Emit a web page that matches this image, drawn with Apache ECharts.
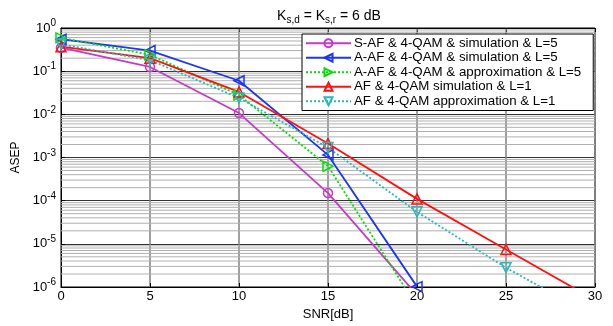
<!DOCTYPE html>
<html><head><meta charset="utf-8">
<script src="https://cdn.jsdelivr.net/npm/echarts@6/dist/echarts.min.js"></script>
<style>html,body{margin:0;padding:0;background:#fff}#c{width:613px;height:326px}</style>
</head><body><div id="c"></div>
<script>
var snr = [0, 5, 10, 15, 20, 25, 30];
var safSim5 = [0.35, 0.125, 0.0107, 1.5e-4, 6.5e-7];
var aafSim5 = [0.55, 0.30, 0.060, 1.15e-3, 1.02e-6];
var aafApx5 = [0.59, 0.24, 0.028, 6.3e-4, 3.5e-7];
var afSim1 = [0.37, 0.20, 0.033, 2.1e-3, 1.1e-4, 7.4e-6, 5e-7];
var afApx1 = [0.42, 0.18, 0.024, 1.7e-3, 5.5e-5, 2.8e-6, 2e-7];
var names = ['S-AF & 4-QAM & simulation & L=5','A-AF & 4-QAM & simulation & L=5','A-AF & 4-QAM & approximation & L=5','AF & 4-QAM simulation & L=1','AF & 4-QAM approximation & L=1'];

function pairs(v){ return v.map(function(y,i){ return [snr[i], y]; }); }
// minor log grid lines (2..9 x 10^k), drawn as broken horizontal segments across the x range
var minorGrid = [];
for (var k = -6; k < 0; k++) for (var m = 2; m <= 9; m++) {
  var g = m * Math.pow(10, k);
  minorGrid.push([0, g], [30, g], null);
}

var FONT = 'Liberation Sans, Arial, sans-serif';
function mk(name, data, color, sym, rot, dotted, size){
  return {name: name, type: 'line', data: pairs(data), symbol: sym, symbolSize: size || 10, symbolRotate: rot,
    showSymbol: true, clip: true, z: 5,
    lineStyle: {color: color, width: 1.8, type: dotted ? [2, 2] : 'solid'},
    itemStyle: {color: 'rgba(255,255,255,0)', borderColor: color, borderWidth: 1.5}};
}
var chart = echarts.init(document.getElementById('c'), null, {renderer: 'canvas'});
chart.setOption({
  animation: false,
  backgroundColor: '#fff',
  textStyle: {fontFamily: FONT},
  title: {text: 'K{sub|s,d} = K{sub|s,r} = 6 dB', left: 324, top: 3, textAlign: 'center',
    textStyle: {fontFamily: FONT, fontSize: 14, fontWeight: 'normal', color: '#000',
      rich: {sub: {fontFamily: FONT, fontSize: 10, verticalAlign: 'bottom', padding: [7, 0, 0, 0], color: '#000'}}}},
  grid: {left: 61, right: 18, top: 28, bottom: 30, show: true, borderColor: '#000', borderWidth: 1, backgroundColor: '#fff'},
  legend: {orient: 'vertical', left: 302, top: 34, itemWidth: 45, itemHeight: 10, itemGap: 0,
    padding: [2, 12, 2, 3], backgroundColor: '#fff', borderColor: '#000', borderWidth: 1,
    textStyle: {fontFamily: FONT, fontSize: 13.3, lineHeight: 14.5, color: '#000', padding: [0, 0, 0, -2]}, data: names, z: 10},
  xAxis: [{type: 'value', min: 0, max: 30, interval: 5, name: 'SNR[dB]', nameLocation: 'middle', nameGap: 21,
    nameTextStyle: {fontFamily: FONT, fontSize: 13, color: '#000'},
    axisLine: {show: true, lineStyle: {color: '#000'}}, axisTick: {inside: true, length: 4, lineStyle: {color: '#000'}},
    axisLabel: {fontFamily: FONT, fontSize: 13, color: '#000', margin: 3},
    splitLine: {show: true, lineStyle: {color: '#808080', width: 1.5}}},
   {type: 'value', min: 0, max: 30, interval: 5, position: 'top', axisLine: {show: true, lineStyle: {color: '#000'}},
    axisTick: {inside: true, length: 4, lineStyle: {color: '#000'}}, axisLabel: {show: false}, splitLine: {show: false}}],
  yAxis: {type: 'log', logBase: 10, min: 1e-6, max: 1, name: 'ASEP', nameLocation: 'middle', nameGap: 36, nameRotate: 90,
    nameTextStyle: {fontFamily: FONT, fontSize: 12, color: '#000'},
    axisLine: {show: true, lineStyle: {color: '#000'}}, axisTick: {inside: true, length: 4, lineStyle: {color: '#000'}},
    axisLabel: {fontFamily: FONT, fontSize: 13, color: '#000', margin: 5,
      formatter: function(v){ return '10{sup|' + Math.round(Math.log10(v)) + '}'; },
      rich: {sup: {fontFamily: FONT, fontSize: 10, color: '#000', verticalAlign: 'top', padding: [0, 0, 9, 0]}}},
    splitLine: {show: true, lineStyle: {color: '#333', width: 1}}},
  series: [
    {name: 'minor', type: 'line', data: minorGrid, z: 1, silent: true, showSymbol: false, symbol: 'none',
      connectNulls: false, legendHoverLink: false,
      lineStyle: {color: '#b0b0b0', width: 1, type: 'solid'}},
    mk(names[0], safSim5, '#c23bc8', 'circle', 0, false, 9),
    mk(names[1], aafSim5, '#1d35f0', 'triangle', 90, false),
    mk(names[2], aafApx5, '#00e000', 'triangle', -90, true),
    mk(names[3], afSim1, '#ff1010', 'triangle', 0, false),
    mk(names[4], afApx1, '#25b8c0', 'triangle', 180, true)
  ]
});
</script></body></html>
